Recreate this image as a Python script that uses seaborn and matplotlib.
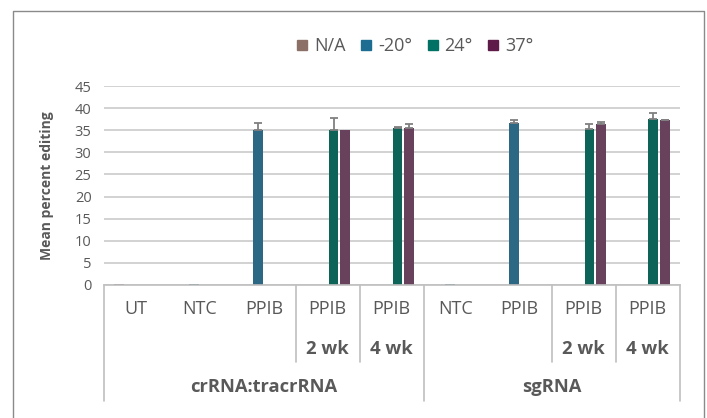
import numpy as np
import pandas as pd
import matplotlib
matplotlib.use("Agg")
import matplotlib.pyplot as plt
import matplotlib.transforms as mtransforms
from matplotlib.lines import Line2D
from matplotlib.container import BarContainer
import seaborn as sns

# ---------------- data ----------------
row1 = ["UT", "NTC", "PPIB", "PPIB", "PPIB", "NTC", "PPIB", "PPIB", "PPIB"]
row2 = ["", "", "", "2 wk", "4 wk", "", "", "2 wk", "4 wk"]
row3 = ["crRNA:tracrRNA"] * 5 + ["sgRNA"] * 4

series = ["N/A", "-20°", "24°", "37°"]
nan = np.nan
val_na = [0.3, nan, nan, nan, nan, nan, nan, nan, nan]
val_m20 = [nan, 0.3, 35.0, nan, nan, 0.3, 36.6, nan, nan]
val_24 = [nan, nan, nan, 35.1, 35.4, nan, nan, 35.3, 37.5]
val_37 = [nan, nan, nan, 35.0, 35.4, nan, nan, 36.4, 37.2]

err_na = [0.0, nan, nan, nan, nan, nan, nan, nan, nan]
err_m20 = [nan, 0.0, 1.7, nan, nan, 0.0, 0.8, nan, nan]
err_24 = [nan, nan, nan, 2.6, 0.4, nan, nan, 1.1, 1.3]
err_37 = [nan, nan, nan, 0.0, 0.9, nan, nan, 0.4, 0.2]

bar_colors = ["#8c7068", "#1d6c92", "#007164", "#6f3a60"]
legend_colors = ["#8c7068", "#1d6c92", "#007164", "#5e1a48"]

yticks = [0, 5, 10, 15, 20, 25, 30, 35, 40, 45]

# ---------------- build table ----------------
keys = [f"{c}|{a}|{b}|{i}" for i, (a, b, c) in enumerate(zip(row1, row2, row3))]
vals = [val_na, val_m20, val_24, val_37]
errs = [err_na, err_m20, err_24, err_37]
recs = []
for s, v in zip(series, vals):
    for k, x in zip(keys, v):
        recs.append({"cat": k, "series": s, "value": x})
df = pd.DataFrame(recs)

# ---------------- style ----------------
sns.set_theme(style="white")
plt.rcParams["font.family"] = ["Open Sans", "DejaVu Sans"]
GREY = "#595959"

W, H = 707, 418
fig = plt.figure(figsize=(W / 100, H / 100), dpi=100)
ax = fig.add_axes([104 / W, 1 - 285 / H, (679.5 - 104) / W, (285 - 86) / H])

sns.barplot(data=df, x="cat", y="value", hue="series", order=keys,
            hue_order=series, palette=bar_colors, width=0.72, gap=0.16,
            errorbar=None, linewidth=0, legend=False, ax=ax)

# error bars (upper only), matched to drawn bars by colour
bar_conts = [c for c in list(ax.containers) if isinstance(c, BarContainer)]
rgb_list = [matplotlib.colors.to_rgb(c) for c in bar_colors]
for cont in bar_conts:
    for p in cont.patches:
        fc = p.get_facecolor()[:3]
        si = int(np.argmin([sum((a - b) ** 2 for a, b in zip(fc, r)) for r in rgb_list]))
        e = errs[si]
        xc = p.get_x() + p.get_width() / 2
        idx = int(round(xc))
        h = p.get_height()
        if np.isnan(h) or np.isnan(e[idx]) or e[idx] <= 0:
            continue
        ax.errorbar([xc], [h], yerr=[[0], [e[idx]]], fmt="none",
                    ecolor="#808080", elinewidth=1.3, capsize=2.9,
                    capthick=1.3, zorder=3)

ax.set_xlim(-0.5, len(keys) - 0.5)
ax.set_ylim(0, 45)
ax.set_yticks(yticks)
ax.set_yticklabels([str(t) for t in yticks])
ax.yaxis.grid(True, color="#cfcfcf", linewidth=1.3)
ax.set_axisbelow(True)
ax.tick_params(axis="y", length=0, pad=9, labelsize=10.5, labelcolor=GREY)
ax.tick_params(axis="x", length=0, labelbottom=False)
ax.set_xlabel("")
ax.set_ylabel("Mean percent editing", fontsize=10, fontweight="bold",
              color=GREY, labelpad=15)
for sp in ["top", "right", "left"]:
    ax.spines[sp].set_visible(False)
ax.spines["bottom"].set_color("#bfbfbf")
ax.spines["bottom"].set_linewidth(1.2)

# multi-level category labels
tr = mtransforms.blended_transform_factory(ax.transData, fig.transFigure)
y1, y2, y3 = 1 - 309 / H, 1 - 349 / H, 1 - 387 / H
yaxis0, yshort, yfull = 1 - 285 / H, 1 - 362 / H, 1 - 401 / H
for i, (a, b) in enumerate(zip(row1, row2)):
    ax.text(i, y1, a, transform=tr, ha="center", va="center",
            fontsize=13, color=GREY)
    if b:
        ax.text(i, y2, b, transform=tr, ha="center", va="center",
                fontsize=13.3, fontweight="bold", color=GREY)
groups = []
for i, g in enumerate(row3):
    if not groups or groups[-1][0] != g:
        groups.append([g, i, i])
    else:
        groups[-1][2] = i
for g, s, e in groups:
    ax.text((s + e) / 2, y3, g, transform=tr, ha="center", va="center",
            fontsize=13.2, fontweight="bold", color=GREY)

n = len(keys)
for bnd in range(n + 1):
    xb = bnd - 0.5
    if bnd == 0 or bnd == n or row3[bnd] != row3[bnd - 1]:
        ylo = yfull
    elif row2[bnd] != row2[bnd - 1]:
        ylo = yshort
    else:
        continue
    ax.add_line(Line2D([xb, xb], [yaxis0, ylo], transform=tr, color="#bfbfbf",
                       linewidth=1.2, clip_on=False))

# legend
handles = [Line2D([], [], marker="s", linestyle="none", markersize=7,
                  markerfacecolor=c, markeredgecolor=c) for c in legend_colors]
fig.legend(handles, series, loc="center", bbox_to_anchor=(414.5 / W, 1 - 46 / H),
           ncol=4, frameon=False, fontsize=13, handlelength=0.7,
           handletextpad=0.3, columnspacing=0.8, labelcolor=GREY,
           borderpad=0, borderaxespad=0)

# outer frame (open at bottom)
fc = "#8a8a8a"
fx0, fx1, fy0 = 12.5 / W, 704 / W, 1 - 10.5 / H
fig.add_artist(Line2D([fx0, fx0, fx1, fx1], [0, fy0, fy0, 0],
                      transform=fig.transFigure, color=fc, linewidth=1.0))

fig.savefig("out.png", dpi=100)
